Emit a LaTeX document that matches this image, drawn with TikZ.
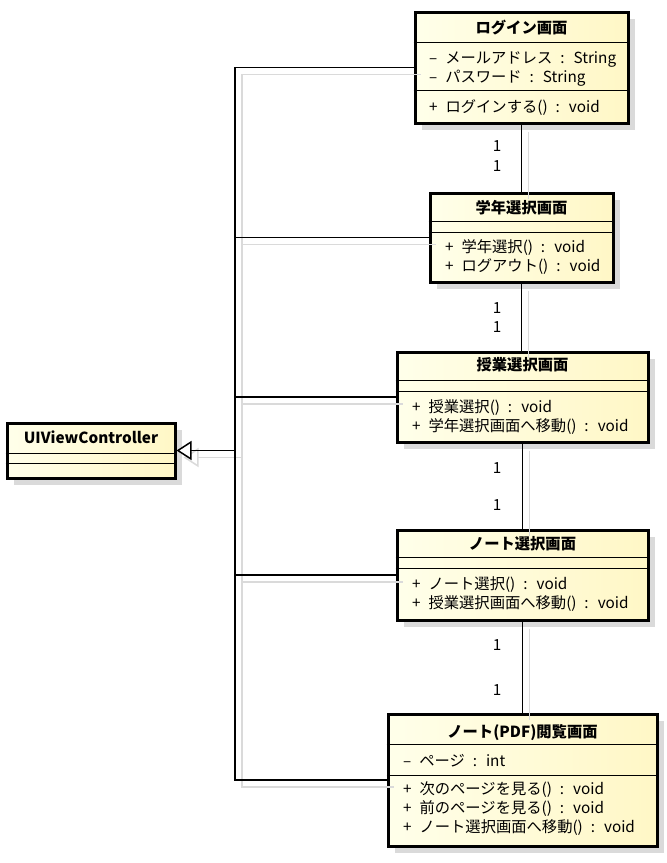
\documentclass[tikz,border=0pt]{standalone}
\usepackage{fontspec}
\setmainfont[WordSpace=2.3]{Noto Sans CJK JP}
\usetikzlibrary{arrows.meta,shadows}
\definecolor{boxL}{RGB}{255,255,234}
\definecolor{boxR}{RGB}{255,247,198}
\definecolor{shadowgray}{RGB}{218,218,218}
\tikzset{
  umlbox/.style={draw, line width=3pt, left color=boxL, right color=boxR, inner sep=0pt,
    drop shadow={shadow xshift=7pt, shadow yshift=-7pt, fill=shadowgray, opacity=1}},
  sepline/.style={line width=1pt},
  txt/.style={anchor=west, inner sep=0pt, text height=13.5pt, text depth=2pt,
    font=\fontsize{15.3}{19}\selectfont},
  ttl/.style={txt, anchor=center, font=\fontsize{15.3}{19}\selectfont\bfseries},
  mult/.style={txt, anchor=center},
  link/.style={line width=1.5pt},
  linkshadow/.style={line width=1.5pt, draw=shadowgray, transform canvas={xshift=7pt, yshift=-7pt}},
  gentip/.style={-{Triangle[length=15pt, width=19pt, fill=white]}},
}
\begin{document}
\begin{tikzpicture}[x=1pt, y=-1pt]
\path[fill=white, use as bounding box] (0,0) rectangle (667,863);

% class boxes
\node[umlbox, minimum width=213pt, minimum height=111pt] (login)  at (521.5,67.5) {};
\node[umlbox, minimum width=183pt, minimum height=89pt]  (grade)  at (521.5,237.5) {};
\node[umlbox, minimum width=251pt, minimum height=90pt]  (lesson) at (522.5,397) {};
\node[umlbox, minimum width=251pt, minimum height=90pt]  (note)   at (522.5,575) {};
\node[umlbox, minimum width=269pt, minimum height=132pt] (pdf)    at (522.5,780) {};
\node[umlbox, minimum width=168pt, minimum height=55pt]  (uivc)   at (91,450.5) {};

% compartment separators
\foreach \b/\ya/\yb in {login/42/90, grade/221/232, lesson/380/391, note/557/568, pdf/744/775, uivc/453/463}{
  \draw[sepline] (\b.west |- 0,\ya) -- (\b.east |- 0,\ya);
  \draw[sepline] (\b.west |- 0,\yb) -- (\b.east |- 0,\yb);
}

% class names
\node[ttl] (loginT)  at (521.5,28)  {ログイン画面};
\node[ttl] (gradeT)  at (521.5,208) {学年選択画面};
\node[ttl] (lessonT) at (522.5,365) {授業選択画面};
\node[ttl] (noteT)   at (522.5,544) {ノート選択画面};
\node[ttl] (pdfT)    at (522.5,732) {ノート(PDF)閲覧画面};
\node[ttl] (uivcT)   at (91,438)    {UIViewController};

% attributes and operations
\node[txt] (loginA1) at (429,58)  {– メールアドレス : String};
\node[txt] (loginA2) at (429,77)  {– パスワード : String};
\node[txt] (loginM1) at (429,107) {+ ログインする() : void};

\node[txt] (gradeM1) at (445,247) {+ 学年選択() : void};
\node[txt] (gradeM2) at (445,266) {+ ログアウト() : void};

\node[txt] (lessonM1) at (412,407) {+ 授業選択() : void};
\node[txt] (lessonM2) at (412,426) {+ 学年選択画面へ移動() : void};

\node[txt] (noteM1) at (412,584) {+ ノート選択() : void};
\node[txt] (noteM2) at (412,603) {+ 授業選択画面へ移動() : void};

\node[txt] (pdfA1) at (403,761) {– ページ : int};
\node[txt] (pdfM1) at (403,789) {+ 次のページを見る() : void};
\node[txt] (pdfM2) at (403,808) {+ 前のページを見る() : void};
\node[txt] (pdfM3) at (403,827) {+ ノート選択画面へ移動() : void};

% generalization hub
\coordinate (hub) at (235,450.5);

% connector shadows
\foreach \b in {login, grade, lesson, note, pdf}{
  \draw[linkshadow] (\b.west) -| (hub);
}
\draw[linkshadow, gentip] (hub) -- (uivc.east);
\draw[linkshadow] (login.south) -- (grade.north);
\draw[linkshadow] (grade.south) -- (grade.south |- lesson.north);
\draw[linkshadow] (lesson.south) -- (note.north);
\draw[linkshadow] (note.south) -- (pdf.north);

% generalization connectors
\foreach \b in {login, grade, lesson, note, pdf}{
  \draw[link] (\b.west) -| (hub);
}
\draw[link, gentip] (hub) -- (uivc.east);

% associations
\draw[link] (login.south) -- (grade.north);
\draw[link] (grade.south) -- (grade.south |- lesson.north);
\draw[link] (lesson.south) -- (note.north);
\draw[link] (note.south) -- (pdf.north);

% multiplicities
\node[mult] (m1a) at (497,146) {1};
\node[mult] (m1b) at (497,166) {1};
\node[mult] (m2a) at (497,308) {1};
\node[mult] (m2b) at (497,327) {1};
\node[mult] (m3a) at (497,468) {1};
\node[mult] (m3b) at (497,505) {1};
\node[mult] (m4a) at (497,645) {1};
\node[mult] (m4b) at (497,690) {1};
\end{tikzpicture}
\end{document}
